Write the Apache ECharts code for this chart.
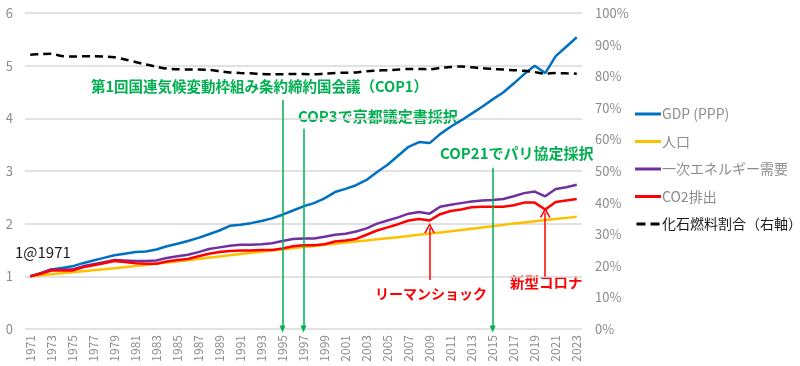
<!DOCTYPE html>
<html><head><meta charset="utf-8">
<script src="https://cdn.jsdelivr.net/npm/echarts@6/dist/echarts.min.js"></script>
<style>html,body{margin:0;padding:0;background:#fff}#c{width:800px;height:366px}</style>
</head><body><div id="c"></div>
<script>
const years = ['1971','1972','1973','1974','1975','1976','1977','1978','1979','1980','1981','1982','1983','1984','1985','1986','1987','1988','1989','1990','1991','1992','1993','1994','1995','1996','1997','1998','1999','2000','2001','2002','2003','2004','2005','2006','2007','2008','2009','2010','2011','2012','2013','2014','2015','2016','2017','2018','2019','2020','2021','2022','2023'];
const gdp = [1.00,1.06,1.13,1.16,1.19,1.25,1.30,1.35,1.40,1.43,1.46,1.47,1.51,1.57,1.62,1.67,1.73,1.80,1.87,1.96,1.98,2.01,2.05,2.10,2.17,2.25,2.33,2.39,2.48,2.60,2.66,2.73,2.83,2.98,3.12,3.29,3.46,3.55,3.53,3.70,3.84,3.96,4.09,4.22,4.36,4.49,4.66,4.84,5.00,4.86,5.18,5.36,5.54];
const population = [1.000,1.021,1.041,1.060,1.078,1.096,1.114,1.133,1.153,1.174,1.195,1.217,1.239,1.261,1.283,1.306,1.330,1.354,1.378,1.402,1.425,1.447,1.469,1.491,1.513,1.534,1.556,1.577,1.598,1.619,1.640,1.661,1.681,1.702,1.723,1.744,1.765,1.788,1.811,1.834,1.857,1.881,1.905,1.929,1.953,1.977,2.001,2.024,2.047,2.069,2.090,2.110,2.130];
const energy = [1.00,1.06,1.13,1.13,1.13,1.19,1.23,1.27,1.31,1.30,1.29,1.29,1.30,1.35,1.38,1.41,1.46,1.52,1.55,1.58,1.60,1.60,1.61,1.63,1.67,1.71,1.72,1.72,1.75,1.79,1.81,1.85,1.91,2.00,2.06,2.12,2.19,2.22,2.19,2.32,2.36,2.39,2.42,2.44,2.45,2.47,2.52,2.58,2.61,2.52,2.66,2.69,2.74];
const co2 = [1.00,1.05,1.11,1.11,1.11,1.17,1.21,1.25,1.29,1.27,1.25,1.24,1.24,1.28,1.31,1.33,1.38,1.43,1.46,1.48,1.49,1.49,1.50,1.50,1.53,1.57,1.59,1.59,1.61,1.66,1.68,1.71,1.79,1.87,1.93,1.99,2.06,2.09,2.06,2.18,2.24,2.27,2.31,2.32,2.32,2.32,2.35,2.40,2.40,2.27,2.41,2.44,2.47];
const fossilShare = [86.8,87.0,87.1,86.4,86.2,86.3,86.3,86.2,86.0,85.3,84.5,83.7,83.0,82.4,82.2,82.1,82.1,82.0,81.6,81.2,81.0,80.9,80.7,80.6,80.6,80.7,80.7,80.6,80.8,81.0,81.1,81.2,81.6,81.8,81.9,82.1,82.3,82.3,82.2,82.6,82.9,83.1,82.8,82.5,82.3,82.1,81.9,81.7,81.3,80.8,81.0,80.9,80.8];
const seriesNames = ['GDP (PPP)','人口','一次エネルギー需要','CO2排出','化石燃料割合（右軸）'];
const leftTicks = {min:0, max:6, interval:1};
const rightTicks = {min:0, max:100, interval:10};
// annotation arrows: [year, fromValue, toValue]
const greenArrows = [['1995',4.35,0],['1997',3.80,0],['2015',3.06,0]];
const redArrows = [['2009',0.93,1.92],['2020',0.99,2.21]];

const FONT = '"Noto Sans CJK JP","Noto Sans",sans-serif';
const chart = echarts.init(document.getElementById('c'));
const lineW = 2.5;
const chev = 'path://M0,10 L5,0 L10,10 L8.4,10 L5,3.2 L1.6,10 Z';
const solidIcon = 'path://M0,0 H26 V3 H0 Z';
const dashIcon = 'path://M0,0 H9 V3 H0 Z M14,0 H23 V3 H14 Z';
chart.setOption({
  animation:false,
  textStyle:{fontFamily:FONT},
  grid:{left:25,right:218,top:13,bottom:37,containLabel:false},
  legend:{
    orient:'vertical', left:630, top:102, itemWidth:26, itemHeight:3, itemGap:13.5,
    textStyle:{fontSize:14,color:'#8c8c8c',fontFamily:FONT, padding:[0,0,0,-4]},
    data:[
      {name:seriesNames[0],icon:solidIcon},{name:seriesNames[1],icon:solidIcon},{name:seriesNames[2],icon:solidIcon},{name:seriesNames[3],icon:solidIcon},
      {name:seriesNames[4],icon:dashIcon, textStyle:{color:'#1a1a1a'}}
    ]
  },
  xAxis:{type:'category',data:years,boundaryGap:true,
    axisLine:{show:false},axisTick:{show:false},
    axisLabel:{interval:1,rotate:90,color:'#8c8c8c',fontSize:12,margin:6,fontFamily:FONT}},
  yAxis:[
    {type:'value',min:leftTicks.min,max:leftTicks.max,interval:leftTicks.interval,
      axisLine:{show:false},axisTick:{show:false},
      axisLabel:{color:'#8c8c8c',fontSize:13,margin:12,fontFamily:FONT},
      splitLine:{lineStyle:{color:'#d9d9d9',width:1.5}}},
    {type:'value',min:rightTicks.min,max:rightTicks.max,interval:rightTicks.interval,
      axisLine:{show:false},axisTick:{show:false},splitLine:{show:false},
      axisLabel:{color:'#8c8c8c',fontSize:13,margin:13,formatter:'{value}%',fontFamily:FONT}}
  ],
  series:[
    {name:seriesNames[0],type:'line',data:gdp,symbol:'none',lineStyle:{color:'#0070C0',width:lineW},itemStyle:{color:'#0070C0'},
      markLine:{silent:true,symbol:['none','triangle'],symbolSize:[6,7],label:{show:false},
        lineStyle:{color:'#00B050',width:1.5,type:'solid'},
        data:greenArrows.map(a=>[{coord:[a[0],a[1]]},{coord:[a[0],a[2]]}])}},
    {name:seriesNames[1],type:'line',data:population,symbol:'none',lineStyle:{color:'#FFC000',width:lineW},itemStyle:{color:'#FFC000'}},
    {name:seriesNames[2],type:'line',data:energy,symbol:'none',lineStyle:{color:'#7030A0',width:lineW},itemStyle:{color:'#7030A0'}},
    {name:seriesNames[3],type:'line',data:co2,symbol:'none',lineStyle:{color:'#FF0000',width:lineW},itemStyle:{color:'#FF0000'},
      markLine:{silent:true,symbol:['none',chev],symbolSize:[11,10],label:{show:false},
        lineStyle:{color:'#FF0000',width:1.5,type:'solid'},
        data:redArrows.map(a=>[{coord:[a[0],a[1]]},{coord:[a[0],a[2]]}])}},
    {name:seriesNames[4],type:'line',yAxisIndex:1,data:fossilShare,symbol:'none',smooth:0.3,
      lineStyle:{color:'#000',width:lineW,type:[8,5]},itemStyle:{color:'#000'}}
  ],
  graphic:[
    {type:'text',left:91,top:79,style:{text:'第1回国連気候変動枠組み条約締約国会議（COP1）',fill:'#00B050',font:'bold 14.5px '+FONT}},
    {type:'text',left:298,top:109,style:{text:'COP3で京都議定書採択',fill:'#00B050',font:'bold 15px '+FONT}},
    {type:'text',left:440,top:146,style:{text:'COP21でパリ協定採択',fill:'#00B050',font:'bold 15px '+FONT}},
    {type:'text',left:375,top:287,style:{text:'リーマンショック',fill:'#FF0000',font:'bold 14px '+FONT}},
    {type:'text',left:510,top:275,style:{text:'新型コロナ',fill:'#FF0000',font:'bold 14.5px '+FONT}},
    {type:'text',left:15,top:245,style:{text:'1@1971',fill:'#1a1a1a',font:'15px '+FONT}}
  ]
});
</script></body></html>
